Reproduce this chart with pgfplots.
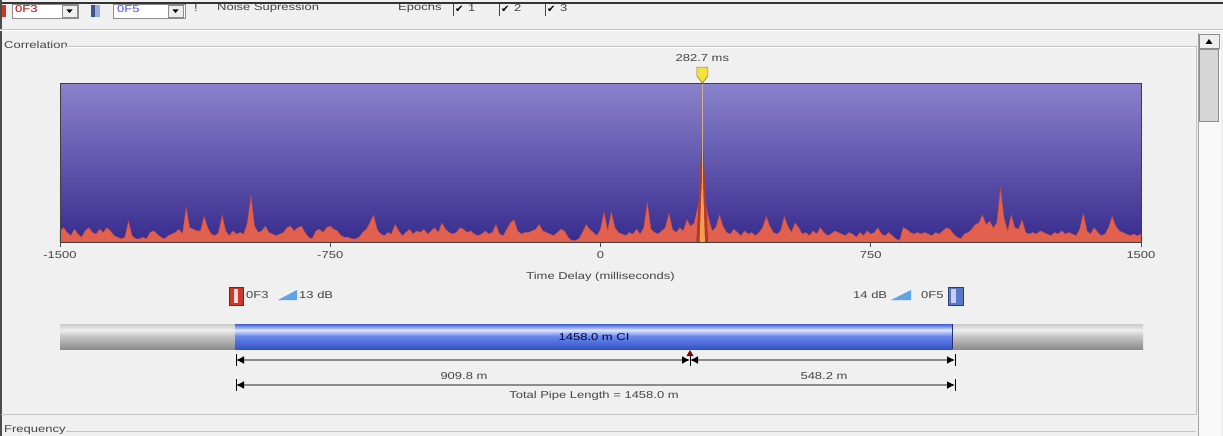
\documentclass[border=0pt]{standalone}
\usepackage{pgfplots}
\pgfplotsset{compat=1.18}
\usepackage{fontspec}
\setmainfont[FakeStretch=1.3]{Liberation Sans}
\newfontfamily\djv{DejaVu Sans}
\usetikzlibrary{arrows.meta}
\newcommand\uif{\fontsize{10}{12}\selectfont}
\definecolor{uibg}{HTML}{F0F0F0}
\definecolor{txt}{HTML}{454545}
\definecolor{frame}{HTML}{C4C4C4}
\definecolor{bgtop}{HTML}{8B82CC}
\definecolor{bgmid}{HTML}{5E50B6}
\definecolor{bgbot}{HTML}{372C8E}
\definecolor{noise}{HTML}{E2604E}
\definecolor{noisedk}{HTML}{C84A3A}
\definecolor{peakdk}{HTML}{B5382A}
\definecolor{core}{HTML}{F2A04E}
\definecolor{cursor}{HTML}{CDB486}
\definecolor{marker}{HTML}{F2E23A}
\definecolor{bluA}{HTML}{3E60D6}
\definecolor{bluB}{HTML}{DCE4FF}
\definecolor{bluC}{HTML}{6A88EC}
\definecolor{bluD}{HTML}{3452C8}
\definecolor{gryA}{HTML}{CACACA}
\definecolor{gryB}{HTML}{EEEEEE}
\definecolor{gryC}{HTML}{C6C6C6}
\definecolor{gryD}{HTML}{8C8C8C}
\definecolor{ramp}{HTML}{5EA4E4}
\definecolor{sensR}{HTML}{C93A2A}
\definecolor{sensB}{HTML}{5A78C8}
\pgfdeclareplotmark{shield}{%
  \pgfpathmoveto{\pgfpoint{-5.5pt}{8pt}}%
  \pgfpathlineto{\pgfpoint{5.5pt}{8pt}}%
  \pgfpathlineto{\pgfpoint{5.5pt}{-1pt}}%
  \pgfpathlineto{\pgfpoint{0pt}{-8pt}}%
  \pgfpathlineto{\pgfpoint{-5.5pt}{-1pt}}%
  \pgfpathclose\pgfusepathqfillstroke}
\begin{document}
\begin{tikzpicture}
\path[use as bounding box] (0,0) rectangle (1223pt,-436pt);
\fill[uibg] (0,0) rectangle (1223pt,-436pt);
\begin{scope}[x=1pt,y=-1pt]
% toolbar
\fill[sensR] (2,5) rectangle (6,17);
\draw[gryD,fill=white] (12,4) rectangle (78,18);
\draw[gryD,fill=gryB] (62,5) rectangle (77,17);
\fill[black] (66.5,9.5) -- (72.5,9.5) -- (69.5,13) -- cycle;
\node[font=\uif,text=red!75!black,anchor=west,inner sep=0] at (15,9) {0F3};
\fill[sensB!70!black] (91,5) rectangle (95,17);
\fill[sensB!60!white] (95,5) rectangle (100,17);
\draw[gryD,fill=white] (113,4) rectangle (185,18);
\draw[gryD,fill=gryB] (168,5) rectangle (183,17);
\fill[black] (172.5,9.5) -- (178.5,9.5) -- (175.5,13) -- cycle;
\node[font=\uif,text=blue!70!white,anchor=west,inner sep=0] at (117,9) {0F5};
\node[font=\uif,text=txt,anchor=west,inner sep=0] at (194,8) {!};
\node[font=\uif,text=txt,anchor=west,inner sep=0] at (217,8) {Noise Supression};
\node[font=\uif,text=txt,anchor=west,inner sep=0] at (398,8) {Epochs};
\draw[txt] (453,4) -- (453,16);
\node[font=\djv\fontsize{10}{12}\selectfont,text=black,anchor=west,inner sep=0] at (455,9) {✔};
\node[font=\uif,text=txt,anchor=west,inner sep=0] at (468,8) {1};
\draw[txt] (499,4) -- (499,16);
\node[font=\djv\fontsize{10}{12}\selectfont,text=black,anchor=west,inner sep=0] at (501,9) {✔};
\node[font=\uif,text=txt,anchor=west,inner sep=0] at (514,8) {2};
\draw[txt] (545,4) -- (545,16);
\node[font=\djv\fontsize{10}{12}\selectfont,text=black,anchor=west,inner sep=0] at (547,9) {✔};
\node[font=\uif,text=txt,anchor=west,inner sep=0] at (560,8) {3};
\draw[black!80,line width=1.5pt] (0,3) -- (1223,3);
\draw[black!70,line width=1.2pt] (1,0) -- (1,436);
\draw[frame] (0,29) -- (1223,29);
\draw[white] (0,30) -- (1223,30);
% group box
\node[font=\uif,text=txt,anchor=west,inner sep=0] at (4,45) {Correlation};
\draw[frame] (66,46) -- (1196,46) -- (1196,414) -- (1,414);
\draw[white] (66,47) -- (1195,47);
\node[font=\uif,text=txt,anchor=west,inner sep=0] at (4,430) {Frequency};
\draw[frame] (66,431) -- (1196,431);
% scrollbar
\fill[white!60!uibg] (1198,33) rectangle (1221,436);
\draw[gryD!80] (1198,33) -- (1198,436);
\draw[gryD,fill=gryB] (1199,34) rectangle (1219,48);
\fill[black] (1205.5,44) -- (1212.5,44) -- (1209,39) -- cycle;
\draw[gryD,fill=gryB!90!black] (1199,49) rectangle (1218,121);
\end{scope}
\begin{axis}[
  at={(60pt,-242pt)}, anchor=south west,
  scale only axis, width=1081pt, height=159pt,
  xmin=-1500, xmax=1500, ymin=0, ymax=100,
  clip=false, axis on top,
  axis background/.style={top color=bgtop, middle color=bgmid, bottom color=bgbot},
  axis line style={black!75, line width=0.9pt},
  ytick=\empty,
  xtick={-1500,-750,0,750,1500},
  xticklabels={-1500,-750,0,750,1500},
  xtick pos=bottom, tick align=outside,
  major tick length=5pt,
  tick style={black!70, line width=0.8pt},
  xticklabel style={font=\uif, text=txt, yshift=-1pt},
]
\addplot[fill=noise, draw=noisedk, line width=0.4pt] coordinates {
(-1500,7)(-1490,9)(-1480,6)(-1470,4)(-1460,8)(-1450,5)(-1440,3)(-1430,7)(-1420,9)(-1410,6)
(-1400,5)(-1390,8)(-1380,6)(-1370,9)(-1360,7)(-1350,4)(-1340,3)(-1330,2)(-1320,3)(-1310,13)
(-1300,4)(-1290,2)(-1280,2)(-1270,3)(-1260,2)(-1250,6)(-1240,7)(-1230,5)(-1220,3)(-1210,2)
(-1200,4)(-1190,5)(-1180,6)(-1170,8)(-1160,5)(-1150,22)(-1140,9)(-1130,8)(-1120,7)(-1110,7)
(-1100,16)(-1090,9)(-1080,5)(-1070,4)(-1060,6)(-1050,17)(-1040,7)(-1030,4)(-1020,7)(-1010,5)
(-1000,6)(-990,5)(-980,12)(-970,29)(-960,10)(-950,6)(-940,7)(-930,10)(-920,6)(-910,5)
(-900,4)(-890,5)(-880,6)(-870,9)(-860,10)(-850,7)(-840,9)(-830,10)(-820,6)(-810,3)
(-800,2)(-790,7)(-780,8)(-770,6)(-760,9)(-750,10)(-740,8)(-730,7)(-720,4)(-710,3)
(-700,3)(-690,2)(-680,2)(-670,3)(-660,6)(-650,8)(-640,12)(-630,17)(-620,8)(-610,5)
(-600,4)(-590,6)(-580,5)(-570,11)(-560,7)(-550,4)(-540,6)(-530,8)(-520,5)(-510,7)
(-500,6)(-490,8)(-480,5)(-470,7)(-460,9)(-450,6)(-440,12)(-430,8)(-420,6)(-410,5)
(-400,6)(-390,9)(-380,8)(-370,6)(-360,7)(-350,5)(-340,4)(-330,5)(-320,7)(-310,5)
(-300,6)(-290,11)(-280,5)(-270,4)(-260,8)(-250,12)(-240,14)(-230,7)(-220,5)(-210,6)
(-200,6)(-190,7)(-180,8)(-170,11)(-160,7)(-150,6)(-140,5)(-130,4)(-120,6)(-110,8)
(-100,7)(-90,3)(-80,1)(-70,1)(-60,2)(-50,6)(-40,11)(-30,8)(-20,6)(-10,4)
(0,8)(10,19)(20,7)(30,19)(40,9)(50,6)(60,5)(70,4)(80,6)(90,5)
(100,8)(110,5)(120,9)(130,25)(140,8)(150,6)(160,5)(170,7)(180,9)(190,18)
(200,8)(210,6)(220,9)(230,7)(240,14)(250,10)(260,12)(270,22)(280,30)(290,25)
(300,15)(310,7)(320,9)(330,17)(340,10)(350,6)(360,5)(370,8)(380,6)(390,4)
(400,7)(410,5)(420,6)(430,4)(440,6)(450,9)(460,16)(470,10)(480,6)(490,5)
(500,7)(510,16)(520,10)(530,6)(540,12)(550,9)(560,5)(570,6)(580,4)(590,7)
(600,5)(610,9)(620,6)(630,4)(640,5)(650,7)(660,6)(670,5)(680,4)(690,6)
(700,5)(710,3)(720,6)(730,4)(740,7)(750,5)(760,6)(770,9)(780,5)(790,4)
(800,6)(810,4)(820,2)(830,1)(840,9)(850,8)(860,6)(870,5)(880,6)(890,5)
(900,6)(910,5)(920,4)(930,6)(940,5)(950,7)(960,9)(970,8)(980,5)(990,3)
(1000,2)(1010,5)(1020,6)(1030,8)(1040,11)(1050,12)(1060,17)(1070,11)(1080,13)(1090,9)
(1100,12)(1110,34)(1120,15)(1130,7)(1140,17)(1150,9)(1160,8)(1170,14)(1180,6)(1190,5)
(1200,6)(1210,5)(1220,7)(1230,6)(1240,5)(1250,4)(1260,6)(1270,5)(1280,7)(1290,5)
(1300,6)(1310,5)(1320,4)(1330,8)(1340,18)(1350,7)(1360,5)(1370,9)(1380,6)(1390,4)
(1400,5)(1410,9)(1420,16)(1430,10)(1440,7)(1450,6)(1460,5)(1470,4)(1480,5)(1490,4)(1500,5)
} \closedcycle;
% leak peak
\addplot[fill=peakdk, draw=none] coordinates {(266,0)(272,25)(277,48)(282.7,70)(288,48)(293,25)(299,0)} \closedcycle;
\addplot[fill=core, draw=none] coordinates {(275,0)(278,20)(281,37)(284.5,37)(287,20)(290,0)} \closedcycle;
\addplot[draw=cursor, line width=1.6pt] coordinates {(282.7,37)(282.7,100)};
\addplot[only marks, mark=shield,
  mark options={fill=marker, draw=black!55!yellow, line width=0.6pt}] coordinates {(282.7,105)};
\node[font=\uif,text=txt,inner sep=0] at (axis cs:282.7,116) {282.7 ms};
\node[font=\uif,text=txt,inner sep=0] at (axis description cs:0.5,-0.22) {Time Delay (milliseconds)};
\end{axis}
\begin{scope}[x=1pt,y=-1pt]
% legend icons
\draw[sensR!60!black,fill=sensR] (229,287) rectangle (243,305);
\fill[white!85!red] (234,289) rectangle (238,303);
\node[font=\uif,text=txt,anchor=west,inner sep=0] at (246,295) {0F3};
\fill[ramp] (278,300) -- (297,300) -- (297,290) -- cycle;
\node[font=\uif,text=txt,anchor=west,inner sep=0] at (299,295) {13 dB};
\node[font=\uif,text=txt,anchor=west,inner sep=0] at (853,295) {14 dB};
\fill[ramp] (891,300) -- (911,300) -- (911,290) -- cycle;
\node[font=\uif,text=txt,anchor=west,inner sep=0] at (921,295) {0F5};
\draw[sensB!50!black,fill=sensB] (948,287) rectangle (963,305);
\fill[white!80!blue] (951,289) rectangle (956,303);
% pipe
\shade[top color=gryA,bottom color=gryB] (60,324) rectangle (235,330);
\shade[top color=gryB,bottom color=gryC] (60,330) rectangle (235,336);
\shade[top color=gryC,bottom color=gryD] (60,336) rectangle (235,349);
\shade[top color=gryA,bottom color=gryB] (952,324) rectangle (1143,330);
\shade[top color=gryB,bottom color=gryC] (952,330) rectangle (1143,336);
\shade[top color=gryC,bottom color=gryD] (952,336) rectangle (1143,349);
\shade[top color=bluA,bottom color=bluB] (235,324) rectangle (952,330);
\shade[top color=bluB,bottom color=bluC] (235,330) rectangle (952,336);
\shade[top color=bluC,bottom color=bluD] (235,336) rectangle (952,349);
\draw[bluD!60!black,line width=1.2pt] (952.5,324) -- (952.5,349);
\node[font=\uif,text=black!75!blue,inner sep=0] at (594,337) {1458.0 m CI};
% dimension lines
\draw[gryD,line width=1.6pt,{Latex[color=black,length=8pt,width=8pt]}-{Latex[color=black,length=8pt,width=8pt]}] (236,360) -- (690,360);
\draw[gryD,line width=1.6pt,{Latex[color=black,length=8pt,width=8pt]}-{Latex[color=black,length=8pt,width=8pt]}] (690,360) -- (955,360);
\draw[gryD,line width=1.6pt,{Latex[color=black,length=8pt,width=8pt]}-{Latex[color=black,length=8pt,width=8pt]}] (236,385) -- (955,385);
\draw[black,line width=1pt] (236,354) -- (236,366) (955,354) -- (955,366) (236,379) -- (236,391) (955,379) -- (955,391) (690,356) -- (690,366);
\fill[red!50!black] (686.5,356) -- (693.5,356) -- (690,350) -- cycle;
\node[font=\uif,text=txt,inner sep=0] at (464,376) {909.8 m};
\node[font=\uif,text=txt,inner sep=0] at (824,376) {548.2 m};
\node[font=\uif,text=txt,inner sep=0] at (594,396) {Total Pipe Length = 1458.0 m};
\end{scope}
\end{tikzpicture}
\end{document}
